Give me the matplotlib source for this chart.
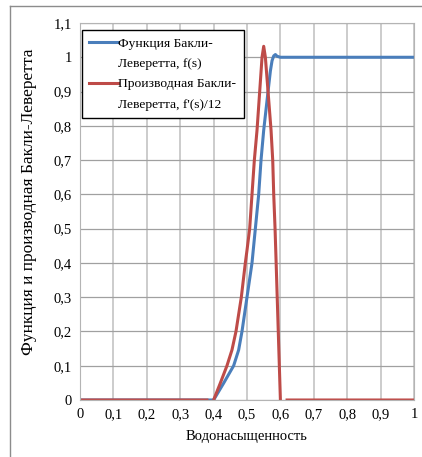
import numpy as np
import matplotlib.pyplot as plt
from matplotlib.lines import Line2D

plt.rcParams['font.family'] = 'serif'
plt.rcParams['font.serif'] = ['Liberation Serif', 'DejaVu Serif']
FAM = ['Liberation Serif', 'DejaVu Serif']

# функция Бакли-Леверетта f(s)
s_f = [0, 0.1, 0.2, 0.3, 0.38, 0.4, 0.43, 0.46, 0.475, 0.485, 0.5, 0.515,
       0.525, 0.535, 0.542, 0.55, 0.563, 0.57, 0.575, 0.58, 0.585, 0.59,
       0.6, 0.7, 0.8, 0.9, 1.0]
f = [0, 0, 0, 0, 0, 0, 0.049, 0.10, 0.146, 0.20, 0.30, 0.40,
     0.50, 0.60, 0.70, 0.787, 0.90, 0.96, 0.99, 1.004, 1.008, 1.003,
     1.0, 1.0, 1.0, 1.0, 1.0]

# производная f'(s)/12 (разрывы на 0.39 и 0.61)
s_d = [0, 0.1, 0.2, 0.3, 0.38, 0.39, 0.4, 0.42, 0.44, 0.455, 0.467, 0.483,
       0.495, 0.5, 0.508, 0.515, 0.522, 0.53, 0.538, 0.545, 0.55, 0.555,
       0.563, 0.572, 0.577, 0.58, 0.584, 0.587, 0.6, 0.61, 0.62, 0.7, 0.8,
       0.9, 1.0]
df = [0, 0, 0, 0, 0, np.nan, 0, 0.049, 0.10, 0.146, 0.20, 0.30,
      0.40, 0.437, 0.50, 0.60, 0.70, 0.787, 0.90, 1.0, 1.032, 1.0,
      0.90, 0.787, 0.70, 0.60, 0.50, 0.408, 0.0, np.nan, 0, 0, 0,
      0, 0]

xticks = np.round(np.arange(0, 1.01, 0.1), 1)
yticks = np.round(np.arange(0, 1.11, 0.1), 1)


def comma(v):
    t = ('%.1f' % v).rstrip('0').rstrip('.')
    return t.replace('.', ',')


fig = plt.figure(figsize=(4.22, 4.57), dpi=100)
ax = fig.add_axes([80 / 422, 57 / 457, 334 / 422, 377 / 457])

l1, = ax.plot(s_f, f, color='#4a7ebb', lw=2.2)
l2, = ax.plot(s_d, df, color='#be4b48', lw=2.2)

ax.set_xlim(0, 1)
ax.set_ylim(0, 1.1)
ax.set_xticks(xticks)
ax.set_yticks(yticks)
ax.set_xticklabels([comma(v) for v in xticks], fontsize=10.5, family=FAM)
ax.set_yticklabels([comma(v) for v in yticks], fontsize=10.5, family=FAM)
ax.tick_params(length=0, pad=6)
ax.xaxis.grid(True, color='#c8c8c8', lw=1.3)
ax.yaxis.grid(True, color='#a0a0a0', lw=0.9)
ax.set_axisbelow(True)
for sp in ax.spines.values():
    sp.set_color('#b4b4b4')

ax.set_xlabel('Водонасыщенность', fontsize=10.5, labelpad=6, family=FAM)
ax.set_ylabel('Функция и производная Бакли-Леверетта', fontsize=12.5,
              family=FAM)
ax.yaxis.set_label_coords(-0.129, 0.5265)

# легенда: подписи в две строки, маркер у первой строки
blank = Line2D([], [], color='none')
leg = ax.legend([l1, blank, l2, blank],
                ['Функция Бакли-', 'Леверетта, f(s)',
                 'Производная Бакли-', "Леверетта, f'(s)/12"],
                loc='upper left', bbox_to_anchor=(0.006, 0.981),
                prop={'family': FAM, 'size': 9.7},
                handlelength=2.1, handletextpad=0.05, borderpad=0.55,
                labelspacing=0.58, fancybox=False, framealpha=1,
                borderaxespad=0)
leg.get_frame().set_edgecolor('black')
leg.get_frame().set_linewidth(1)

# рамка вокруг диаграммы
x0 = 10 / 422
y0 = 1 - 6 / 457
fig.add_artist(Line2D([x0, x0], [0, y0], color='#8c8c8c', lw=1))
fig.add_artist(Line2D([x0, 1], [y0, y0], color='#8c8c8c', lw=1))

fig.savefig('out.png', dpi=100)
